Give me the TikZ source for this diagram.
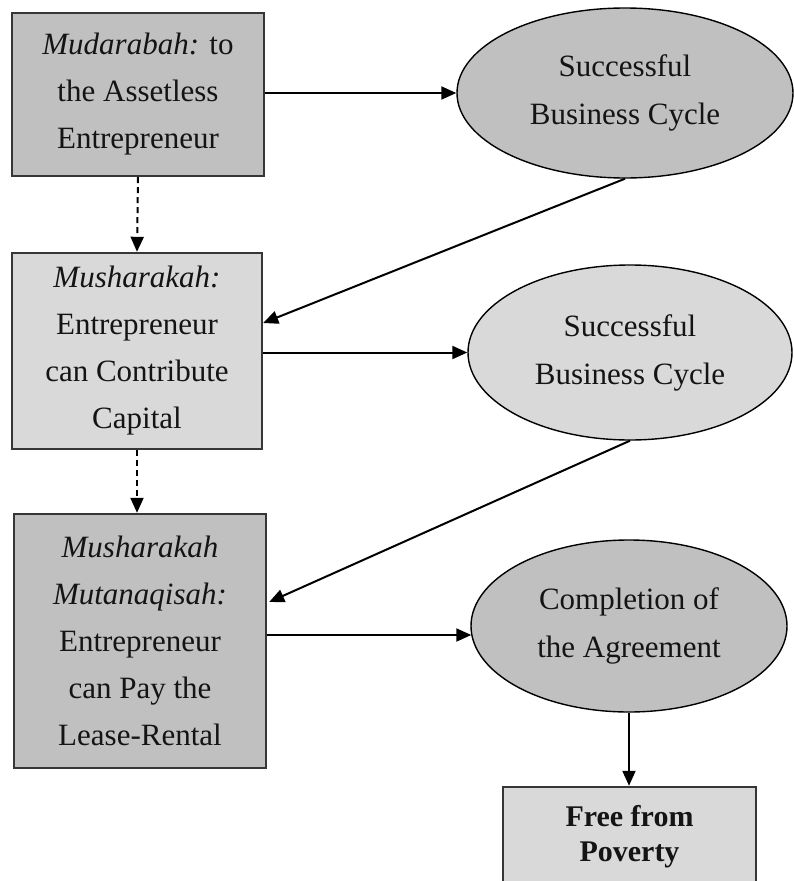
\documentclass[tikz,border=0pt]{standalone}
\usepackage{fontspec}
\setmainfont{Liberation Serif}
\usetikzlibrary{shapes.geometric,arrows.meta,calc}

\definecolor{darkfill}{HTML}{C0C0C0}
\definecolor{lightfill}{HTML}{D9D9D9}
\definecolor{boxline}{HTML}{363636}
\definecolor{inktext}{HTML}{141414}

\tikzset{
  stagebox/.style={draw=boxline, line width=2.4pt, rectangle, inner sep=0pt,
    align=center, text=inktext, font=\fontsize{31}{47}\selectfont},
  cycleoval/.style={draw=black, line width=1.4pt, ellipse, inner sep=0pt,
    align=center, text=inktext, font=\fontsize{31}{48}\selectfont},
  flow/.style={line width=2pt, -{Triangle[length=15pt,width=13pt]}},
  stepdown/.style={flow, dash pattern=on 6pt off 4pt}
}

\begin{document}
\begin{tikzpicture}[x=1pt,y=-1pt]
\useasboundingbox (0,0) rectangle (793,881);

% left column: financing stages
\node[stagebox, fill=darkfill, minimum width=252pt, minimum height=163pt]
  (b1) at (138,94.5) {\textit{Mudarabah:} to\\the Assetless\\Entrepreneur};
\node[stagebox, fill=lightfill, minimum width=250pt, minimum height=196pt]
  (b2) at (137,351) {\textit{Musharakah:}\\Entrepreneur\\can Contribute\\Capital};
\node[stagebox, fill=darkfill, minimum width=252pt, minimum height=254pt]
  (b3) at (140,641) {\textit{Musharakah}\\\textit{Mutanaqisah:}\\Entrepreneur\\can Pay the\\Lease-Rental};

% right column: outcomes
\node[cycleoval, fill=darkfill, minimum width=336pt, minimum height=170pt]
  (e1) at (625,93) {Successful\\Business Cycle};
\node[cycleoval, fill=lightfill, minimum width=324pt, minimum height=175pt]
  (e2) at (630,352.5) {Successful\\Business Cycle};
\node[cycleoval, fill=darkfill, minimum width=316pt, minimum height=172pt]
  (e3) at (629,626) {Completion of\\the Agreement};

% final result
\node[stagebox, fill=lightfill, minimum width=253pt, minimum height=100pt,
  font=\bfseries\fontsize{30}{35}\selectfont]
  (b4) at (629.5,837) {Free from\\Poverty};

% entry points on the box sides
\coordinate (b2in) at ($(b2.east)+(0,-28)$);
\coordinate (b3in) at ($(b3.east)+(2,-39)$);
\coordinate (b3out) at ($(b3.east)+(0,-6)$);
\coordinate (e3in) at ($(e3.west)+(1,9)$);

% connectors
\draw[flow] (b1.east |- e1.west) -- (e1.west);
\draw[stepdown] (b1.south) -- (b2.north);
\draw[flow] (e1.south) -- (b2in);
\draw[flow] (b2.east |- e2.west) -- (e2.west);
\draw[stepdown] (b2.south) -- (b2.south |- b3.north);
\draw[flow] (e2.south) -- (b3in);
\draw[flow] (b3out) -- (e3in);
\draw[flow] (e3.south) -- (e3.south |- b4.north);
\end{tikzpicture}
\end{document}
